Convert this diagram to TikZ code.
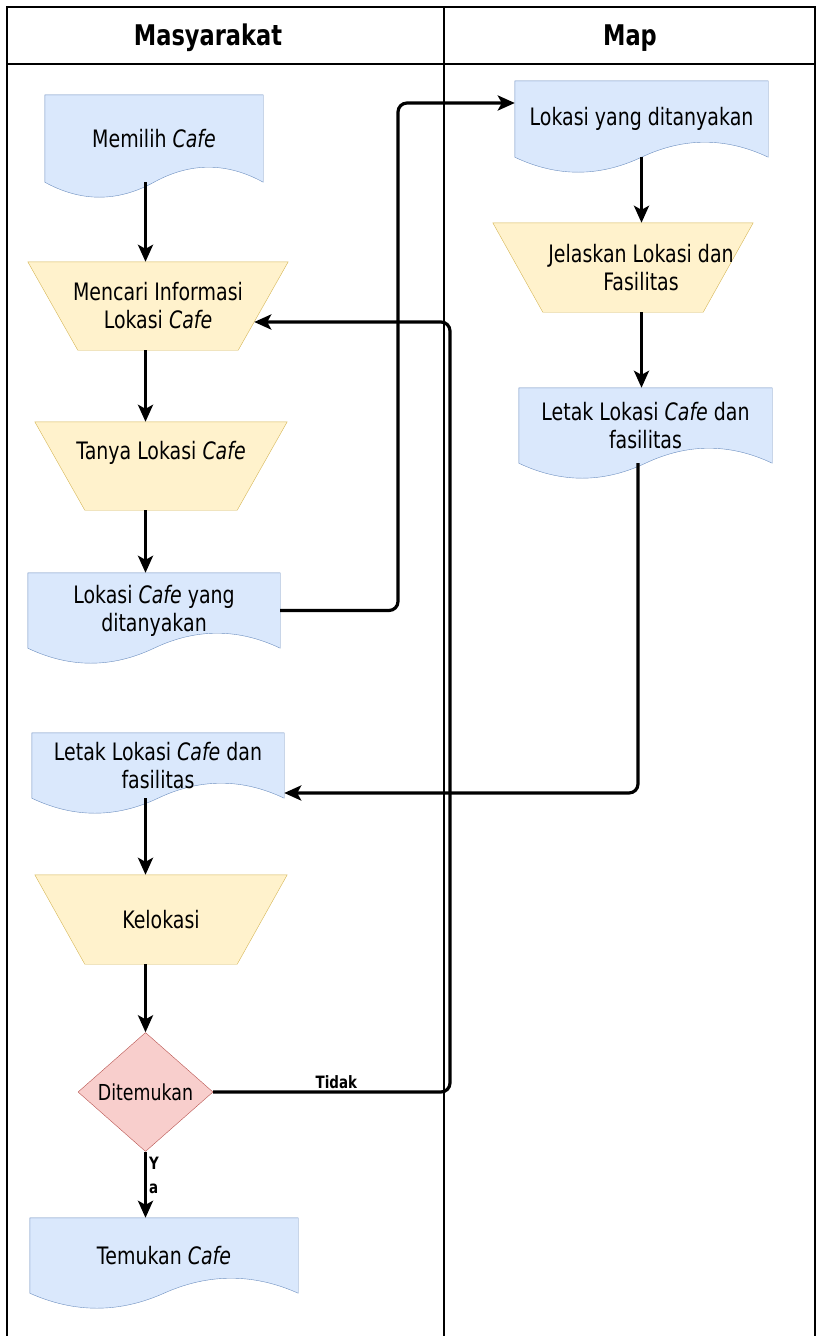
\documentclass[tikz,border=0pt]{standalone}
\usepackage{fontspec}
\setmainfont[FakeStretch=0.79]{DejaVu Sans}
\usetikzlibrary{shapes,arrows.meta,positioning,calc,backgrounds}

\definecolor{docfill}{HTML}{DAE8FC}
\definecolor{docline}{HTML}{6C8EBF}
\definecolor{opfill}{HTML}{FFF2CC}
\definecolor{opline}{HTML}{D6B656}
\definecolor{decfill}{HTML}{F8CECC}
\definecolor{decline}{HTML}{B85450}

\tikzset{
  txt/.style={font=\fontsize{24}{28}\selectfont},
  doc/.style={txt, inner sep=0pt, align=center},
  manual/.style={txt, minimum width=252pt, minimum height=88pt, inner sep=0pt, align=center},
  decision/.style={diamond, draw=decline, fill=decfill, minimum width=135pt,
    minimum height=119pt, inner sep=0pt, font=\fontsize{22}{25}\selectfont},
  flow/.style={line width=3.2pt, -{Stealth[length=17pt,width=15pt,inset=4pt]}, rounded corners=9pt},
  lbl/.style={font=\fontsize{17}{24}\selectfont\bfseries, inner sep=2pt},
  lane/.style={line width=1.3pt},
  head/.style={font=\fontsize{28.5}{32}\selectfont\bfseries, anchor=base},
}

\begin{document}
\begin{tikzpicture}[x=1pt, y=-1pt]
    \useasboundingbox (0,0) rectangle (816,1336);

    % Swimlanes
    \draw[lane] (7,1345) -- (7,7) -- (815,7) -- (815,1345);
    \draw[lane] (7,64) -- (815,64);
    \draw[lane] (444,7) -- (444,1345);
    \node[head] (hmas) at (208,45) {Masyarakat};
    \node[head] (hmap) at (630,45) {Map};

    % Masyarakat
    \node[doc, minimum width=218pt, minimum height=87pt] (memilih) at (154,138.5) {Memilih \textit{Cafe}};
    \node[manual, minimum width=260pt] (mencari) at (158,306) {Mencari Informasi\\Lokasi \textit{Cafe}};
    \node[manual, text depth=32pt] (tanya) at (161,466) {Tanya Lokasi \textit{Cafe}};
    \node[doc, minimum width=252pt, minimum height=75pt] (lokasicafe) at (154,610.5) {Lokasi \textit{Cafe} yang\\ditanyakan};
    \node[doc, minimum width=252pt, minimum height=65pt] (letakkiri) at (158,765.5) {Letak Lokasi \textit{Cafe} dan\\fasilitas};
    \node[manual, minimum height=89pt] (kelokasi) at (161,919.5) {Kelokasi};
    \node[decision] (ditemukan) at (145.5,1092) {Ditemukan};
    \node[doc, minimum width=268pt, minimum height=75pt] (temukan) at (164,1255.5) {Temukan \textit{Cafe}};

    % Map
    \node[doc, minimum width=253pt, minimum height=76pt] (lokasiyang) at (641.5,119) {Lokasi yang ditanyakan};
    \node[manual, minimum width=260pt, minimum height=89pt] (jelaskan) at (623,267.5)
        {\makebox[0pt]{\hspace{36pt}Jelaskan Lokasi dan}\\\makebox[0pt]{\hspace{36pt}Fasilitas}};
    \node[doc, minimum width=253pt, minimum height=75pt] (letakkanan) at (645.5,425.5) {Letak Lokasi \textit{Cafe} dan\\fasilitas};

    % Outlines
    \begin{scope}[on background layer]
    \foreach \n in {memilih,lokasicafe,letakkiri,temukan,lokasiyang,letakkanan}
        \draw[draw=docline, fill=docfill] (\n.south east) -- (\n.north east) -- (\n.north west) -- (\n.south west)
            .. controls ($(\n.south west)!0.1667!(\n.south east)+(0,20)$) and ($(\n.south west)!0.3333!(\n.south east)+(0,20)$) .. (\n.south)
            .. controls ($(\n.south west)!0.6667!(\n.south east)+(0,-20)$) and ($(\n.south west)!0.8333!(\n.south east)+(0,-20)$) .. (\n.south east) -- cycle;
    \foreach \n in {mencari,tanya,kelokasi,jelaskan}
        \draw[draw=opline, fill=opfill] (\n.north west) -- (\n.north east)
            -- ($(\n.south east)+(-50,0)$) -- ($(\n.south west)+(50,0)$) -- cycle;
    \end{scope}

    % Bends
    \coordinate (bendA) at (398,103);
    \coordinate (bendB) at (638,793);
    \coordinate (bendC) at (450,322);

    % Flow
    \draw[flow] (memilih.south -| ditemukan) -- (mencari.north -| ditemukan);
    \draw[flow] (mencari.south -| ditemukan) -- (tanya.north -| ditemukan);
    \draw[flow] (tanya.south -| ditemukan) -- (lokasicafe.north -| ditemukan);
    \draw[flow] (lokasicafe.east) -| (bendA) -- (bendA -| lokasiyang.west);
    \draw[flow] (lokasiyang.south) -- (jelaskan.north -| lokasiyang);
    \draw[flow] (jelaskan.south -| lokasiyang) -- (letakkanan.north -| lokasiyang);
    \draw[flow] (letakkanan.south -| bendB) -- (bendB) -- (bendB -| letakkiri.east);
    \draw[flow] (letakkiri.south -| ditemukan) -- (kelokasi.north -| ditemukan);
    \draw[flow] (kelokasi.south -| ditemukan) -- (ditemukan.north);
    \draw[flow] (ditemukan.east) -| node[lbl, above, pos=0.26] (tidak) {Tidak} (bendC) -- ($(bendC -| mencari.east)+(-34,0)$);
    \draw[flow] (ditemukan.south) -- node[lbl, right, pos=0.36, align=left] (ya) {Y\\a} (temukan.north -| ditemukan);
\end{tikzpicture}
\end{document}
